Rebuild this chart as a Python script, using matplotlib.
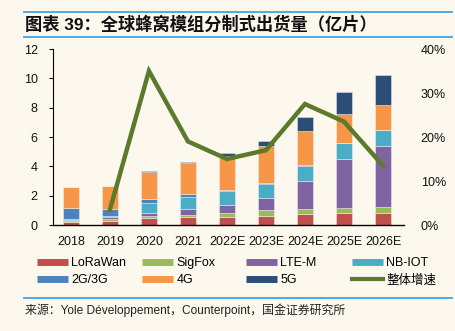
import numpy as np
import matplotlib
matplotlib.use('Agg')
import matplotlib.pyplot as plt
from matplotlib.lines import Line2D
from matplotlib.ticker import FuncFormatter

plt.rcParams['font.family'] = ['Liberation Sans', 'Noto Sans CJK SC']

# Shipments by technology (100 million units)
years = ['2018', '2019', '2020', '2021', '2022E', '2023E', '2024E', '2025E', '2026E']
lorawan = [0.20, 0.25, 0.45, 0.52, 0.57, 0.63, 0.75, 0.82, 0.82]
sigfox = [0.10, 0.18, 0.16, 0.16, 0.25, 0.37, 0.34, 0.36, 0.43]
lte_m = [0.05, 0.10, 0.22, 0.38, 0.52, 0.82, 1.88, 3.33, 4.15]
nb_iot = [0.03, 0.10, 0.66, 0.84, 0.97, 0.97, 1.08, 1.09, 1.10]
g23 = [0.75, 0.43, 0.25, 0.18, 0.07, 0.05, 0.02, 0.00, 0.00]
g4 = [1.45, 1.60, 1.84, 2.16, 2.35, 2.53, 2.32, 2.00, 1.65]
g5 = [0.00, 0.00, 0.07, 0.06, 0.20, 0.39, 0.96, 1.45, 2.11]
# overall growth rate (%), no value for the first year
growth = [np.nan, 3.5, 35.0, 19.0, 15.0, 17.0, 27.5, 23.5, 13.5]

series = [
    ('LoRaWan', lorawan, '#c0504d'),
    ('SigFox', sigfox, '#9bbb59'),
    ('LTE-M', lte_m, '#8064a2'),
    ('NB-IOT', nb_iot, '#4bacc6'),
    ('2G/3G', g23, '#4f81bd'),
    ('4G', g4, '#f79646'),
    ('5G', g5, '#2c4d75'),
]
line_color = '#5b7a2b'
bg = '#fcf8ee'
rule_color = '#41a3e2'

W, H = 455, 331
fig = plt.figure(figsize=(W / 100, H / 100), dpi=100, facecolor=bg)
ax = fig.add_axes([53 / W, 1 - 225 / H, 351 / W, 176 / H])
ax.set_facecolor(bg)

x = np.arange(len(years))
bottom = np.zeros(len(years))
for name, vals, color in series:
    ax.bar(x, vals, 0.4, bottom=bottom, color=color,
           edgecolor=(1, 1, 1, 0.45), linewidth=0.6, zorder=2)
    bottom += np.array(vals)

ax.set_xlim(-0.46, 8.54)
ax.set_ylim(0, 12)
ax.set_yticks(range(0, 13, 2))
ax.set_xticks(x)
ax.set_xticklabels(years)
ax.tick_params(axis='x', length=0, pad=8, labelsize=9, colors='#111111')
ax.tick_params(axis='y', length=3, width=0.8, pad=8, labelsize=9, colors='#111111', direction='out')
for s in ['top', 'right']:
    ax.spines[s].set_visible(False)
ax.spines['left'].set_linewidth(0.8)
ax.spines['bottom'].set_linewidth(1.0)

ax2 = ax.twinx()
ax2.plot(x, growth, color=line_color, lw=3.2, solid_joinstyle='miter', zorder=3)
ax2.set_ylim(0, 40)
ax2.set_yticks(range(0, 41, 10))
ax2.yaxis.set_major_formatter(FuncFormatter(lambda v, p: f'{v:.0f}%'))
ax2.tick_params(axis='y', length=0, pad=12, labelsize=9, colors='#111111')
for s in ['top', 'right', 'left', 'bottom']:
    ax2.spines[s].set_visible(False)

# legend: bars shown as thick strokes, one small legend per column
handles = [Line2D([], [], color=c, lw=5, solid_capstyle='butt') for _, _, c in series]
handles.append(Line2D([], [], color=line_color, lw=3))
labels = [n for n, _, _ in series] + ['整体增速']
col_x = [37, 142, 246, 352]
for i, cx in enumerate(col_x):
    fig.legend([handles[i], handles[i + 4]], [labels[i], labels[i + 4]],
               ncol=1, frameon=False, loc='upper left',
               bbox_to_anchor=(cx / W, 1 - 257 / H), fontsize=9,
               handlelength=2.5, handletextpad=0.25,
               labelspacing=0.42, borderaxespad=0, borderpad=0)

# title and rules
for yy in (12, 37, 298):
    fig.add_artist(Line2D([24 / W, 452 / W], [1 - yy / H] * 2, color=rule_color, lw=1.3))
fig.text(25 / W, 1 - 24.5 / H, '图表 39：全球蜂窝模组分制式出货量（亿片）',
         fontsize=12.4, fontweight='bold', va='center', ha='left', color='#111111')
fig.text(25 / W, 1 - 310 / H, '来源：Yole Développement，Counterpoint，国金证券研究所',
         fontsize=8.6, va='center', ha='left', color='#222222')

fig.savefig('out.png', dpi=100, facecolor=bg)
